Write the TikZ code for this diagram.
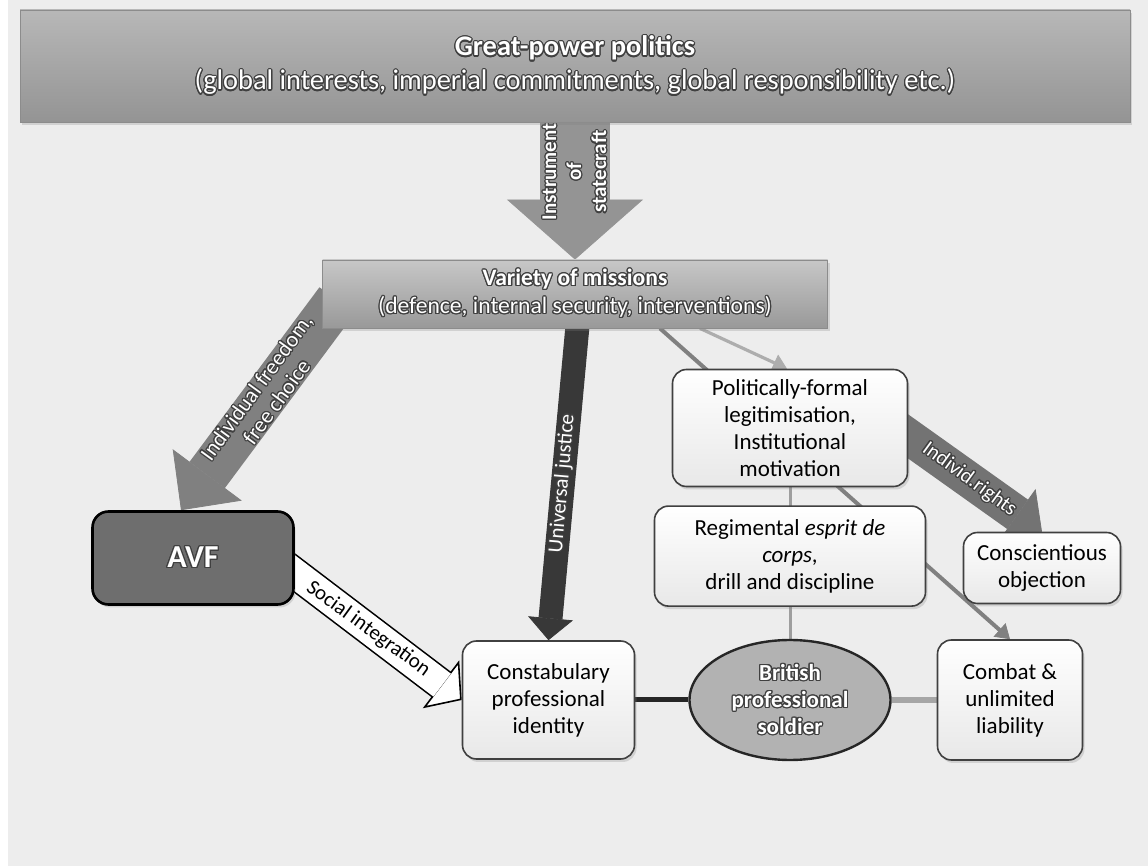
\documentclass[tikz,border=0pt]{standalone}
\usepackage{fontspec}
\setmainfont{Carlito}
\usepackage{contour}
\contourlength{0.6pt}
\usetikzlibrary{arrows.meta,positioning,shapes.geometric,shadows}

\definecolor{paper}{RGB}{237,237,237}
\newcommand{\halo}[1]{\contour{black!75}{#1}}

\pgfdeclarelayer{backdrop}
\pgfdeclarelayer{links}
\pgfsetlayers{backdrop,links,main}

\begin{document}
\begin{tikzpicture}[x = 0.5pt, y = -0.5pt]
  \tikzset{banner/.style = {shape = rectangle, draw = black!45, text = white, align = center,
                            drop shadow = {opacity = 0.25, shadow xshift = 1pt, shadow yshift = -1.5pt}}}
  \tikzset{box/.style = {shape = rectangle, rounded corners = 7pt, draw = black!75, line width = 0.8pt,
                         top color = white, bottom color = black!9, align = center,
                         font = \fontsize{11.5}{13.5}\selectfont,
                         drop shadow = {opacity = 0.25, shadow xshift = 1pt, shadow yshift = -1.5pt}}}
  \tikzset{armlabel/.style = {text = white, align = center, inner sep = 0pt, font = \fontsize{11}{12.5}\selectfont}}
  \tikzset{bigarrow/.style = {line width = 35pt, -{Triangle[width = 68pt, length = 30pt, line width = 0.4pt]}}}

  \useasboundingbox (0,0) rectangle (1148,866);
  \begin{pgfonlayer}{backdrop}
    \fill[paper] (0,0) rectangle (1148,866);
    \fill[white] (0,0) rectangle (8,866);
  \end{pgfonlayer}

  % top level
  \node[banner, minimum width = 555pt, minimum height = 56pt, top color = black!28, bottom color = black!42,
        font = \fontsize{14.2}{17}\selectfont] (power) at (575,66)
        {\halo{\bfseries Great-power politics}\\\halo{(global interests, imperial commitments, global responsibility etc.)}};
  \node[banner, minimum width = 252.5pt, minimum height = 34pt, top color = black!22, bottom color = black!40,
        font = \fontsize{11.8}{14}\selectfont] (missions) at (575,294)
        {\halo{\bfseries Variety of missions}\\\halo{(defence, internal security, interventions)}};

  % boxes
  \node[box, minimum width = 117.5pt, minimum height = 58.5pt] (formal) at (790,428)
        {Politically-formal\\legitimisation,\\Institutional\\motivation};
  \node[box, minimum width = 135.5pt, minimum height = 50pt, below = 9pt of formal] (regiment)
        {Regimental \textit{esprit de}\\\textit{corps},\\drill and discipline};
  \node[box, minimum width = 78.5pt, minimum height = 35.5pt] (objection) at (1042,568)
        {Conscientious\\objection};
  \node[shape = ellipse, draw = black!85, line width = 1.2pt, fill = black!30, minimum width = 100.5pt,
        minimum height = 60pt, inner sep = 0pt, align = center, font = \bfseries\fontsize{11.5}{13.5}\selectfont] (soldier) at (790,700)
        {\halo{\textcolor{white}{British}}\\\halo{\textcolor{white}{professional}}\\\halo{\textcolor{white}{soldier}}};
  \node[box, minimum width = 86pt, minimum height = 59pt, left = 26.5pt of soldier] (constab)
        {Constabulary\\professional\\identity};
  \node[box, minimum width = 72.5pt, minimum height = 60pt, right = 22.5pt of soldier] (combat)
        {Combat \&\\unlimited\\liability};
  \node[shape = rectangle, rounded corners = 8pt, draw = black, line width = 1.3pt, fill = black!57,
        minimum width = 100.5pt, minimum height = 46.5pt, font = \bfseries\fontsize{16}{18}\selectfont,
        drop shadow = {opacity = 0.25, shadow xshift = 1pt, shadow yshift = -1.5pt}] (avf) at (193,558)
        {\halo{\textcolor{white}{AVF}}};

  \begin{pgfonlayer}{links}
    \draw[bigarrow, draw = black!42] (power.south) --
          node[pos = 0.36, rotate = 90, armlabel, font = \bfseries\fontsize{10.5}{12.5}\selectfont]
          {\halo{Instrument}\\\halo{of}\\\halo{statecraft}} (missions.north);
    \draw[draw = black!50, line width = 22pt, -{Triangle[width = 43pt, length = 22pt, line width = 0.4pt]}]
          ([shift = {(15,-28)}]missions.south west) --
          node[pos = 0.45, rotate = 54, armlabel] {\halo{Individual freedom,}\\\halo{free choice}} ([xshift = -6pt]avf.north);
    \draw[draw = black!78, line width = 12pt, -{Triangle[width = 22.5pt, length = 11pt, line width = 0.4pt]}]
          ([shift = {(3,-8)}]missions.south) --
          node[pos = 0.51, rotate = 85, armlabel, font = \fontsize{10.5}{12}\selectfont] {\halo{Universal justice}} (constab.north);
    \draw[draw = black!55, line width = 18pt, -{Triangle[width = 31pt, length = 15pt, line width = 0.4pt]}]
          ([xshift = -6pt]formal.east) --
          node[pos = 0.5, rotate = -36, armlabel, font = \fontsize{10.5}{12}\selectfont] {\halo{Individ.rights}} (objection.north);
    % white arrow: black rim first, white core on top
    \draw[draw = black, line width = 16pt, -{Triangle[width = 30pt, length = 13pt, line width = 0.8pt, fill = white]}]
          ([xshift = -10pt]avf.east) -- (constab.west);
    \draw[draw = white, line width = 14.4pt, shorten > = 12.3pt] ([xshift = -10pt]avf.east) --
          node[pos = 0.5, rotate = -36, text = black, inner sep = 0pt, font = \fontsize{10.5}{12}\selectfont] {Social integration} (constab.west);
    \draw[draw = black!50, line width = 2pt, -{Triangle[width = 9pt, length = 7pt, line width = 0.4pt]}]
          ([xshift = 42.5pt]missions.south) -- (combat.north);
    \draw[draw = black!32, line width = 1.6pt, -{Triangle[width = 9pt, length = 7pt, line width = 0.4pt]}]
          ([xshift = 62.5pt]missions.south) -- ([xshift = -1.5pt]formal.north);
    \draw[draw = black!38, line width = 1.5pt] (formal.south) -- (soldier.north);
    \draw[draw = black!85, line width = 2.5pt] (constab.east) -- (soldier.west);
    \draw[draw = black!35, line width = 3pt] (soldier.east) -- (combat.west);
  \end{pgfonlayer}
\end{tikzpicture}
\end{document}
